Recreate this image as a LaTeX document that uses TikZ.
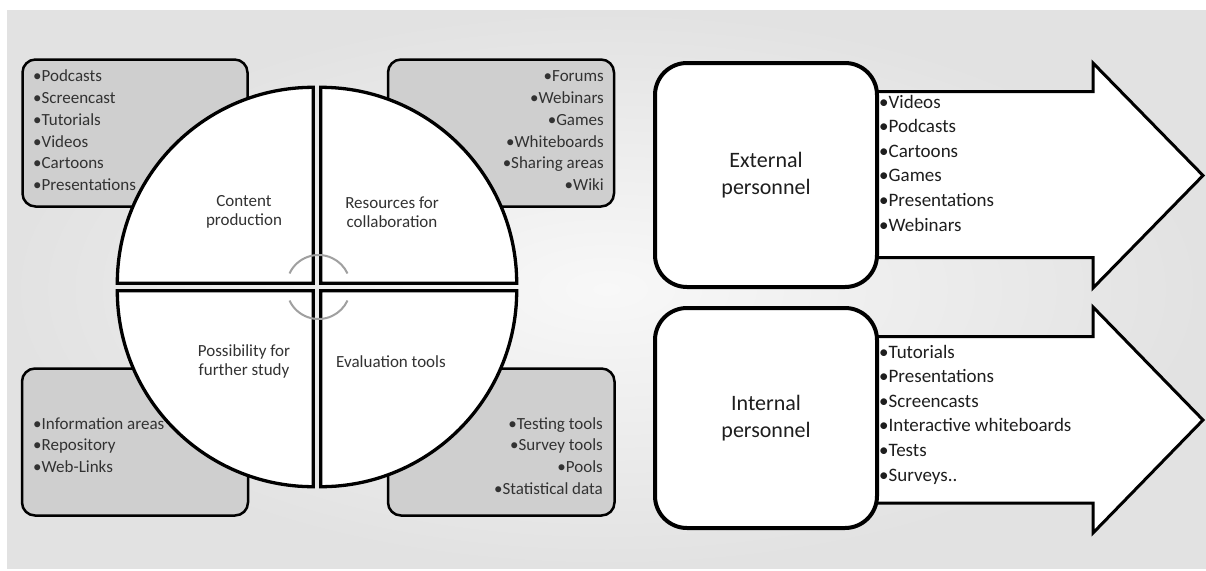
\documentclass[tikz,border=0pt]{standalone}
\usepackage{fontspec}
\setmainfont{Carlito}
\definecolor{boxgray}{RGB}{207,207,207}
\definecolor{txtgray}{RGB}{50,50,50}
\definecolor{txtdark}{RGB}{30,30,30}
\definecolor{ringgray}{RGB}{160,160,160}
\definecolor{bgin}{RGB}{248,248,248}
\definecolor{bgout}{RGB}{226,226,226}
\begin{document}
\begin{tikzpicture}[x=1pt,y=-1pt,
  gbox/.style={draw=black, line width=2.5pt, fill=boxgray, rounded corners=13pt},
  quad/.style={draw=black, line width=3.3pt, fill=white, line join=miter},
  pbox/.style={draw=black, line width=4pt, fill=white, rounded corners=32pt,
    minimum width=222pt, minimum height=222pt, inner sep=0pt, text=txtdark,
    align=center, font=\fontsize{22}{27}\selectfont},
  bigarrow/.style={draw=black, line width=3pt, fill=white, line join=miter},
  smalllist/.style={inner sep=0pt, text=txtgray, font=\fontsize{17}{21}\selectfont},
  biglist/.style={inner sep=0pt, text=txtdark, font=\fontsize{19}{23}\selectfont},
  qlabel/.style={inner sep=0pt, text=txtgray, align=center, font=\fontsize{17}{19}\selectfont},
  ring/.style={draw=ringgray, line width=2pt}
]
\useasboundingbox (0,0) rectangle (1206,570);
\fill[white] (0,0) rectangle (1206,570);
\shade[inner color=bgin, outer color=bgout] (7,10) rectangle (1206,568);

% gray boxes
\draw[gbox] (22.5,59.5) rectangle (247.5,206.5);
\draw[gbox] (388,59.5) rectangle (614,206.5);
\draw[gbox] (22,368.5) rectangle (248,515.5);
\draw[gbox] (388,368.5) rectangle (614.5,515.5);

% quadrants
\draw[quad] (320.7,283.3) -- ++(196,0) arc[start angle=0,end angle=-90,radius=196] -- cycle;
\draw[quad] (313.3,283.3) -- ++(-196,0) arc[start angle=180,end angle=270,radius=196] -- cycle;
\draw[quad] (313.3,290.7) -- ++(-196,0) arc[start angle=180,end angle=90,radius=196] -- cycle;
\draw[quad] (320.7,290.7) -- ++(196,0) arc[start angle=0,end angle=90,radius=196] -- cycle;

% rings
\coordinate (rc) at (318.5,287);
\draw[ring] ([shift={(-155:32)}]rc) arc[start angle=-155,end angle=-25,radius=32];
\draw[ring] ([shift={(155:32)}]rc) arc[start angle=155,end angle=25,radius=32];

% quadrant labels
\node[qlabel] (qcp) at (244,212) {Content\\production};
\node[qlabel] (qrc) at (392,212) {Resources for\\collaboration};
\node[qlabel] (qps) at (244,361) {Possibility for\\further study};
\node[qlabel] (qet) at (391,362) {Evaluation tools};

% box lists
\foreach \t [count=\i from 0] in {Podcasts,Screencast,Tutorials,Videos,Cartoons,Presentations}
  \node[smalllist, anchor=base west] (tl\i) at (33,{81.7+21.8*\i}) {•\t};
\foreach \t [count=\i from 0] in {Forums,Webinars,Games,Whiteboards,Sharing areas,Wiki}
  \node[smalllist, anchor=base east] (tr\i) at (604,{81.7+21.8*\i}) {•\t};
\foreach \t [count=\i from 0] in {Information areas,Repository,Web-Links}
  \node[smalllist, anchor=base west] (bl\i) at (33,{429+21.8*\i}) {•\t};
\foreach \t [count=\i from 0] in {Testing tools,Survey tools,Pools,Statistical data}
  \node[smalllist, anchor=base east] (br\i) at (603,{429+21.8*\i}) {•\t};

% arrows
\draw[bigarrow] (870,91.5) -- (1093,91.5) -- (1093,63) -- (1203,175.5) -- (1093,288)
  -- (1093,257.5) -- (870,257.5) -- cycle;
\draw[bigarrow] (870,336.5) -- (1093,336.5) -- (1093,307) -- (1203,420) -- (1093,533)
  -- (1093,503) -- (870,503) -- cycle;

% personnel boxes
\node[pbox, minimum height=224pt] (ext) at (766,175) {External\\personnel};
\node[pbox, minimum height=220pt] (int) at (766,418) {Internal\\personnel};

% arrow lists
\foreach \t [count=\i from 0] in {Videos,Podcasts,Cartoons,Games,Presentations,Webinars}
  \node[biglist, anchor=base west] (el\i) at (879,{108+24.6*\i}) {•\t};
\foreach \t [count=\i from 0] in {Tutorials,Presentations,Screencasts,Interactive whiteboards,Tests,Surveys..}
  \node[biglist, anchor=base west] (il\i) at (879,{358+24.6*\i}) {•\t};
\end{tikzpicture}
\end{document}
